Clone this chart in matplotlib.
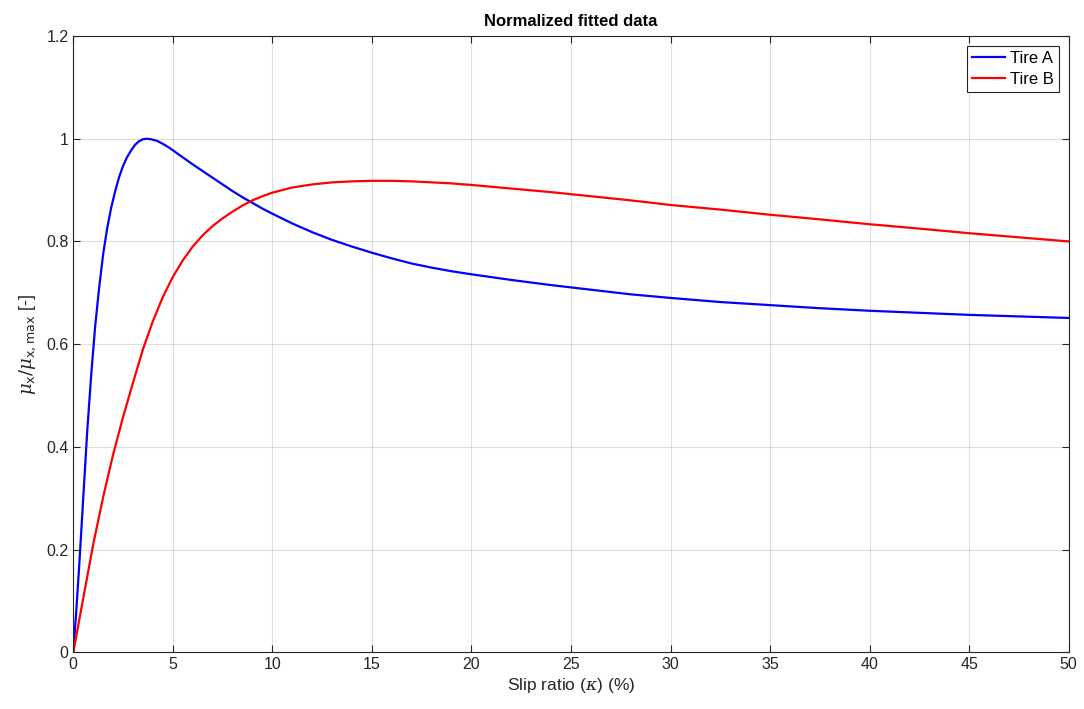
import numpy as np
import matplotlib
matplotlib.use("Agg")
import matplotlib.pyplot as plt
from matplotlib.ticker import FuncFormatter

plt.rcParams['font.family'] = ['Liberation Sans', 'DejaVu Sans']
plt.rcParams['mathtext.fontset'] = 'custom'
plt.rcParams['mathtext.rm'] = 'DejaVu Sans'
plt.rcParams['mathtext.it'] = 'DejaVu Serif:italic'

# Curvas normalizadas (slip ratio en %, mu_x / mu_x,max)
slip_a = [0, 0.15, 0.3, 0.5, 0.7, 0.9, 1.1, 1.3, 1.5, 1.7, 1.9, 2.1, 2.3, 2.5,
          2.7, 2.9, 3.1, 3.3, 3.5, 3.7, 3.9, 4.2, 4.5, 4.8, 5.2, 5.6, 6.0, 6.5,
          7.0, 7.5, 8.0, 8.5, 9.0, 9.5, 10, 11, 12, 13, 14, 15, 16, 17, 18, 19,
          20, 22, 24, 26, 28, 30, 32.5, 35, 37.5, 40, 42.5, 45, 47.5, 50]
mu_a = [0, 0.08, 0.17, 0.30, 0.43, 0.54, 0.635, 0.71, 0.775, 0.825, 0.865,
        0.897, 0.925, 0.947, 0.964, 0.977, 0.988, 0.995, 0.999, 1.0, 0.999,
        0.996, 0.990, 0.983, 0.972, 0.961, 0.950, 0.937, 0.924, 0.911, 0.898,
        0.886, 0.875, 0.864, 0.854, 0.835, 0.818, 0.803, 0.790, 0.778, 0.767,
        0.757, 0.749, 0.742, 0.736, 0.725, 0.715, 0.706, 0.697, 0.690, 0.682,
        0.676, 0.670, 0.665, 0.661, 0.657, 0.654, 0.651]

slip_b = [0, 0.5, 1.0, 1.5, 2.0, 2.5, 3.0, 3.5, 4.0, 4.5, 5.0, 5.5, 6.0, 6.5,
          7.0, 7.5, 8.0, 8.5, 9.0, 9.5, 10, 11, 12, 13, 14, 15, 16, 17, 18, 19,
          20, 22, 24, 26, 28, 30, 32.5, 35, 37.5, 40, 42.5, 45, 47.5, 50]
mu_b = [0, 0.105, 0.21, 0.302, 0.385, 0.458, 0.525, 0.59, 0.645, 0.692, 0.731,
        0.763, 0.790, 0.812, 0.830, 0.845, 0.858, 0.870, 0.880, 0.888, 0.895,
        0.905, 0.911, 0.915, 0.917, 0.918, 0.918, 0.917, 0.915, 0.913, 0.910,
        0.903, 0.896, 0.888, 0.880, 0.871, 0.862, 0.852, 0.843, 0.8335, 0.825,
        0.816, 0.808, 0.800]

dark = (0.15, 0.15, 0.15)

fig = plt.figure(figsize=(10.84, 7.09), dpi=100)
ax = fig.add_axes([0.0676, 0.080, 0.9183, 0.8692])

ax.plot(slip_a, mu_a, color=(0, 0, 1), lw=1.6, label='Tire A')
ax.plot(slip_b, mu_b, color=(1, 0, 0), lw=1.6, label='Tire B')

ax.set_xlim(0, 50)
ax.set_ylim(0, 1.2)
ax.set_xticks(np.arange(0, 51, 5))
ax.set_yticks(np.arange(0, 1.21, 0.2))
ax.yaxis.set_major_formatter(FuncFormatter(lambda v, p: '%g' % round(v, 2)))

ax.grid(True, color=(0.15, 0.15, 0.15), alpha=0.15, lw=0.8)
ax.tick_params(direction='in', top=True, right=True, length=5, width=0.8,
               colors=dark, labelsize=11.5)
for s in ax.spines.values():
    s.set_color(dark)
    s.set_linewidth(0.8)

ax.set_title('Normalized fitted data', fontsize=12, fontweight='bold', pad=7)
ax.set_xlabel(r'Slip ratio ($\kappa$) (%)', fontsize=12.5, color=dark, labelpad=3)
ax.set_ylabel(r'$\mu_{\mathrm{x}}/\mu_{\mathrm{x,max}}$ [-]', fontsize=13,
              color=dark, labelpad=6)

leg = ax.legend(loc='upper right', fontsize=12, fancybox=False, framealpha=1,
                edgecolor=dark, borderaxespad=0.6, handlelength=2.0,
                handletextpad=0.3, borderpad=0.3, labelspacing=0.35)
leg.get_frame().set_linewidth(0.8)

fig.savefig('out.png', dpi=100)
